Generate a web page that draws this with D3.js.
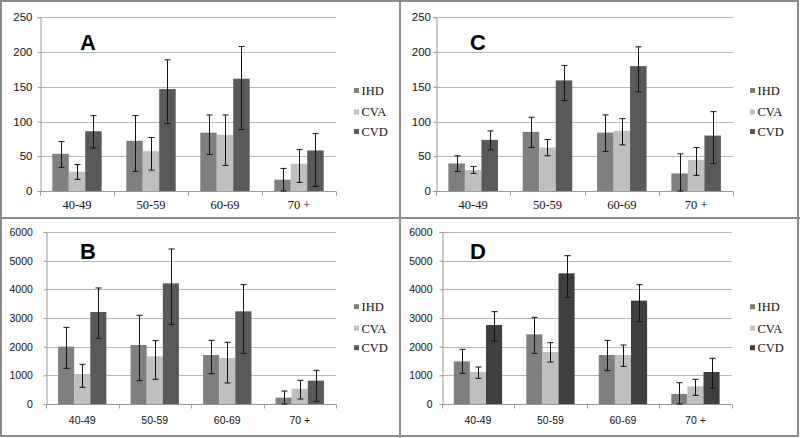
<!DOCTYPE html>
<html><head><meta charset="utf-8">
<script src="https://cdn.jsdelivr.net/npm/d3@7"></script>
<style>html,body{margin:0;padding:0;background:#fff;}svg{display:block;}</style>
</head><body>
<svg id="chart" width="800" height="438"></svg>
<script>
const categories = ["40-49", "50-59", "60-69", "70 +"];
const seriesNames = ["IHD", "CVA", "CVD"];

// Panel A
const A_values = [[53.5, 72.2, 84, 16.3], [27.7, 57.4, 80.8, 39.2], [86, 146.7, 161.6, 58.3]];
const A_low    = [[34, 28.2, 52.6, 0], [16.7, 30, 36.8, 12.4], [62, 97, 88.4, 6.7]];
const A_high   = [[71.2, 108.5, 109.5, 32.5], [38.2, 77, 109.5, 59.8], [108.5, 188.8, 208, 82.7]];
// Panel B
const B_values = [[2000, 2058, 1709, 221], [1047, 1663, 1605, 535], [3209, 4209, 3233, 814]];
const B_low    = [[1244, 814, 1058, 0], [581, 860, 733, 174], [2291, 2779, 1767, 93]];
const B_high   = [[2674, 3093, 2221, 453], [1384, 2209, 2151, 826], [4047, 5407, 4163, 1174]];
// Panel C
const C_values = [[39.7, 85.1, 84.1, 25.3], [30.1, 62.6, 86.5, 44.9], [73.6, 159.2, 179.7, 79.8]];
const C_low    = [[28.2, 62.6, 56.9, 0], [25.3, 50.7, 66.4, 22.5], [59.3, 130, 142.9, 39.7]];
const C_high   = [[50.7, 106.1, 109.5, 53.5], [35.4, 74.1, 104.2, 62.6], [86.5, 180.7, 207.5, 114.2]];
// Panel D
const D_values = [[1488, 2430, 1709, 349], [1116, 1814, 1709, 616], [2756, 4558, 3605, 1116]];
const D_low    = [[1070, 1767, 1163, 0], [895, 1465, 1314, 302], [2198, 3721, 2872, 558]];
const D_high   = [[1907, 3023, 2221, 744], [1291, 2140, 2058, 860], [3221, 5174, 4163, 1593]];

const ticksSmall = [0, 50, 100, 150, 200, 250];
const ticksLarge = [0, 1000, 2000, 3000, 4000, 5000, 6000];

const panels = [
  {label:"A", values:A_values, low:A_low, high:A_high, ticks:ticksSmall, left:40, right:336, top:17.3, bottom:191,
   yLabX:32, letterX:80, letterY:49.5, legX:354, legY:90.5, xFont:"'Liberation Serif', 'Times New Roman', serif", xSize:12.5, xLabDy:17, ySize:11.5,
   colors:["#7f7f7f","#bfbfbf","#595959"]},
  {label:"C", values:C_values, low:C_low, high:C_high, ticks:ticksSmall, left:436, right:733.3, top:17.3, bottom:191,
   yLabX:430.5, letterX:470, letterY:49.5, legX:750, legY:90.5, xFont:"'Liberation Serif', 'Times New Roman', serif", xSize:12.5, xLabDy:17, ySize:11.5,
   colors:["#7f7f7f","#bfbfbf","#595959"]},
  {label:"B", values:B_values, low:B_low, high:B_high, ticks:ticksLarge, left:46, right:336, top:232, bottom:404,
   yLabX:32.3, letterX:80, letterY:258.7, legX:354, legY:306.7, xFont:"'Liberation Sans', Arial, sans-serif", xSize:10.5, xLabDy:19, ySize:10.5,
   colors:["#7f7f7f","#bfbfbf","#595959"]},
  {label:"D", values:D_values, low:D_low, high:D_high, ticks:ticksLarge, left:441.7, right:731.7, top:232, bottom:404,
   yLabX:431.7, letterX:470, letterY:258.5, legX:750, legY:306.7, xFont:"'Liberation Sans', Arial, sans-serif", xSize:10.5, xLabDy:19, ySize:10.5,
   colors:["#7f7f7f","#bfbfbf","#3f3f3f"]}
];
const legendOffsets = [0, 21.5, 41];

const svg = d3.select("#chart");
svg.append("rect").attr("x",0).attr("y",0).attr("width",800).attr("height",438).attr("fill","#fff");

panels.forEach(p => {
  const g = svg.append("g");
  const yMax = p.ticks[p.ticks.length-1];
  const y = d3.scaleLinear().domain([0, yMax]).range([p.bottom, p.top]);
  const x0 = d3.scaleBand().domain(categories).range([p.left, p.right]).padding(0);
  const x1 = d3.scaleBand().domain(seriesNames).range([0, x0.bandwidth()]).paddingInner(0).paddingOuter(0.75);

  // gridlines
  g.selectAll(".grid").data(p.ticks.slice(1)).join("line")
    .attr("x1", p.left).attr("x2", p.right)
    .attr("y1", d => Math.round(y(d))+0.5).attr("y2", d => Math.round(y(d))+0.5)
    .attr("stroke", "#b4b4b4").attr("stroke-width", 1);

  // y axis
  const yAxis = d3.axisLeft(y).tickValues(p.ticks).tickSize(3).tickPadding(p.left - p.yLabX - 3).tickFormat(d3.format("d"));
  const ya = g.append("g").attr("transform", `translate(${Math.round(p.left)+0.5},0)`).call(yAxis);
  ya.select(".domain").attr("stroke", "#9a9a9a");
  ya.selectAll(".tick line").attr("stroke", "#9a9a9a");
  ya.selectAll("text").attr("font-family", "'Liberation Sans', Arial, sans-serif").attr("font-size", p.ySize).attr("fill", "#111");

  // bars
  seriesNames.forEach((s, si) => {
    g.selectAll(".bar"+s).data(categories).join("rect")
      .attr("x", c => x0(c) + x1(s))
      .attr("width", x1.bandwidth())
      .attr("y", (c, i) => y(p.values[si][i]))
      .attr("height", (c, i) => y(0) - y(p.values[si][i]))
      .attr("fill", p.colors[si]);
  });

  // x axis
  const xa = g.append("g").attr("transform", `translate(0,${Math.round(p.bottom)+0.5})`);
  xa.append("line").attr("x1", p.left).attr("x2", p.right).attr("stroke", "#9a9a9a");
  const bounds = categories.map(c => x0(c)).concat([p.right]);
  xa.selectAll(".xt").data(bounds).join("line")
    .attr("x1", d => Math.round(d)+0.5).attr("x2", d => Math.round(d)+0.5)
    .attr("y1", 0).attr("y2", 4).attr("stroke", "#9a9a9a");
  xa.selectAll(".xl").data(categories).join("text")
    .attr("x", c => x0(c) + x0.bandwidth()/2).attr("y", p.xLabDy)
    .attr("text-anchor", "middle").attr("font-family", p.xFont).attr("font-size", p.xSize).attr("fill", "#111")
    .text(c => c);

  // error bars
  seriesNames.forEach((s, si) => {
    const cx = c => Math.round(x0(c) + x1(s) + x1.bandwidth()/2) + 0.5;
    const eg = g.append("g").attr("stroke", "#111").attr("stroke-width", 1);
    categories.forEach((c, i) => {
      const xx = cx(c);
      const yl = y(p.low[si][i]), yh = y(p.high[si][i]);
      eg.append("line").attr("x1", xx).attr("x2", xx).attr("y1", yl).attr("y2", yh);
      eg.append("line").attr("x1", xx-3).attr("x2", xx+3).attr("y1", yh).attr("y2", yh);
      eg.append("line").attr("x1", xx-3).attr("x2", xx+3).attr("y1", yl).attr("y2", yl);
    });
  });

  // panel letter
  g.append("text").attr("x", p.letterX).attr("y", p.letterY)
    .attr("font-family", "'Liberation Sans', Arial, sans-serif").attr("font-weight", "bold")
    .attr("font-size", 22).attr("fill", "#000").text(p.label);

  // legend
  const lg = g.append("g");
  seriesNames.forEach((s, si) => {
    const ly = p.legY + legendOffsets[si];
    lg.append("rect").attr("x", p.legX).attr("y", ly - 2.5).attr("width", 5).attr("height", 5).attr("fill", p.colors[si]);
    lg.append("text").attr("x", p.legX + 7.5).attr("y", ly).attr("dy", "0.35em")
      .attr("font-family", "'Liberation Serif', 'Times New Roman', serif").attr("font-size", 12.5).attr("fill", "#111").text(s);
  });
});

// frame and dividers
svg.append("rect").attr("x", 1).attr("y", 1).attr("width", 797).attr("height", 435)
  .attr("fill", "none").attr("stroke", "#8a8a8a").attr("stroke-width", 2);
svg.append("line").attr("x1", 400).attr("x2", 400).attr("y1", 0).attr("y2", 438).attr("stroke", "#8a8a8a").attr("stroke-width", 2);
svg.append("line").attr("x1", 0).attr("x2", 800).attr("y1", 218).attr("y2", 218).attr("stroke", "#8a8a8a").attr("stroke-width", 2);
</script>
</body></html>
